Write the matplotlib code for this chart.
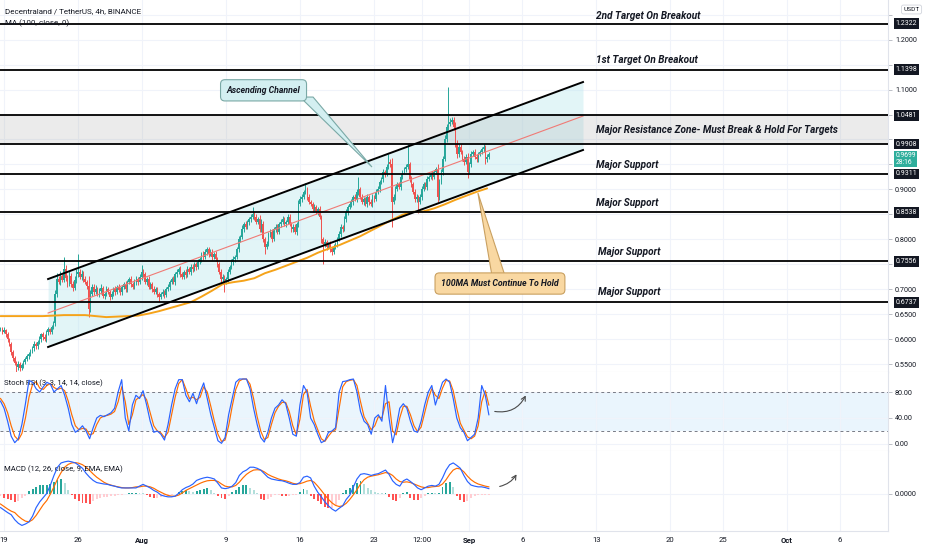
import matplotlib
matplotlib.use('Agg')
import matplotlib.pyplot as plt
import matplotlib.transforms as mtransforms
from matplotlib.patches import Polygon, FancyArrowPatch
from matplotlib import font_manager
import numpy as np

installed = {f.name for f in font_manager.fontManager.ttflist}
if 'Liberation Sans Narrow' in installed:
    UI = 'Liberation Sans Narrow'
    FS = 1.0
else:
    UI = 'Roboto'
    FS = 0.9
plt.rcParams['font.family'] = [UI, 'DejaVu Sans']

# ---------------- data ----------------
open0 = 0.620
closes = [
    0.620, 0.615, 0.618, 0.610, 0.600, 0.590, 0.575, 0.562, 0.552, 0.545,
    0.550, 0.542, 0.548, 0.555, 0.560, 0.566, 0.571, 0.576, 0.582, 0.590,
    0.586, 0.595, 0.601, 0.610, 0.604, 0.600, 0.614, 0.620, 0.615, 0.625,
    0.632, 0.690, 0.720, 0.714, 0.726, 0.719, 0.740, 0.722, 0.710, 0.726,
    0.711, 0.702, 0.719, 0.730, 0.735, 0.724, 0.731, 0.720, 0.714, 0.706,
    0.660, 0.690, 0.705, 0.695, 0.701, 0.690, 0.696, 0.702, 0.686, 0.691,
    0.700, 0.694, 0.685, 0.690, 0.700, 0.695, 0.705, 0.699, 0.694, 0.705,
    0.710, 0.700, 0.715, 0.720, 0.710, 0.705, 0.715, 0.720, 0.714, 0.725,
    0.735, 0.730, 0.715, 0.720, 0.705, 0.710, 0.700, 0.695, 0.700, 0.690,
    0.685, 0.690, 0.695, 0.689, 0.700, 0.705, 0.715, 0.720, 0.714, 0.730,
    0.735, 0.740, 0.730, 0.725, 0.735, 0.729, 0.740, 0.735, 0.745, 0.740,
    0.750, 0.745, 0.755, 0.760, 0.770, 0.764, 0.775, 0.780, 0.770, 0.775,
    0.765, 0.770, 0.760, 0.750, 0.735, 0.720, 0.725, 0.715, 0.720, 0.735,
    0.745, 0.755, 0.760, 0.765, 0.780, 0.800, 0.805, 0.820, 0.830, 0.825,
    0.835, 0.840, 0.845, 0.850, 0.845, 0.835, 0.840, 0.820, 0.830, 0.800,
    0.785, 0.790, 0.810, 0.815, 0.800, 0.820, 0.825, 0.815, 0.830, 0.835,
    0.840, 0.830, 0.835, 0.845, 0.830, 0.820, 0.825, 0.815, 0.830, 0.870,
    0.880, 0.885, 0.895, 0.900, 0.885, 0.875, 0.870, 0.860, 0.865, 0.855,
    0.860, 0.845, 0.800, 0.790, 0.795, 0.785, 0.790, 0.780, 0.775, 0.785,
    0.790, 0.800, 0.810, 0.825, 0.820, 0.840, 0.855, 0.865, 0.870, 0.875,
    0.885, 0.880, 0.895, 0.900, 0.885, 0.875, 0.880, 0.870, 0.885, 0.875,
    0.870, 0.885, 0.880, 0.895, 0.900, 0.915, 0.920, 0.935, 0.930, 0.945,
    0.955, 0.950, 0.875, 0.885, 0.900, 0.910, 0.905, 0.925, 0.935, 0.940,
    0.945, 0.950, 0.920, 0.910, 0.895, 0.880, 0.885, 0.875, 0.885, 0.900,
    0.910, 0.905, 0.920, 0.925, 0.930, 0.925, 0.935, 0.940, 0.885, 0.915,
    0.935, 0.960, 1.000, 1.025, 1.030, 1.035, 1.040, 1.025, 0.990, 0.970,
    0.985, 0.975, 0.960, 0.955, 0.965, 0.935, 0.950, 0.970, 0.975, 0.965,
    0.960, 0.970, 0.975, 0.980, 0.985, 0.960, 0.965, 0.970,
]
# wick lengths above / below the candle body, in thousandths
wick_up = [
    5, 4, 6, 3, 4, 3, 4, 3, 5, 4,   6, 4, 5, 3, 4, 5, 3, 4, 5, 6,
    5, 4, 6, 3, 5, 6, 4, 5, 3, 4,   5, 8, 12, 6, 10, 5, 25, 8, 6, 10,
    7, 5, 8, 10, 35, 6, 8, 5, 6, 4, 20, 8, 6, 5, 7, 4, 6, 8, 5, 4,
    6, 5, 4, 6, 5, 7, 4, 5, 6, 4,   5, 6, 4, 5, 6, 4, 5, 6, 4, 5,
    13, 6, 4, 5, 6, 4, 5, 6, 4, 5,  4, 5, 6, 4, 5, 6, 4, 5, 6, 4,
    5, 4, 6, 5, 4, 5, 6, 4, 5, 6,   4, 5, 6, 4, 5, 6, 5, 5, 4, 6,
    5, 4, 6, 5, 4, 6, 5, 4, 5, 6,   4, 5, 6, 4, 5, 6, 4, 8, 5, 6,
    4, 5, 6, 15, 5, 6, 4, 8, 10, 6, 5, 6, 4, 5, 6, 4, 5, 6, 4, 5,
    6, 5, 4, 6, 5, 4, 6, 5, 4, 8,   6, 5, 4, 13, 5, 6, 4, 5, 6, 4,
    5, 6, 4, 5, 6, 4, 5, 6, 4, 5,   5, 4, 6, 5, 4, 6, 5, 4, 6, 5,
    4, 6, 5, 25, 5, 6, 4, 5, 6, 4,  5, 6, 4, 5, 6, 4, 5, 6, 4, 5,
    15, 6, 12, 5, 6, 4, 5, 6, 4, 5, 6, 40, 5, 6, 4, 5, 6, 4, 5, 6,
    4, 5, 6, 4, 5, 6, 4, 5, 10, 6,  5, 6, 8, 6, 76, 8, 6, 5, 10, 8,
    6, 5, 4, 6, 5, 8, 5, 6, 4, 5,   6, 5, 4, 5, 6, 4, 5, 4,
]
wick_dn = [
    4, 5, 3, 6, 5, 4, 6, 5, 4, 10,  6, 5, 4, 6, 5, 4, 6, 5, 4, 5,
    6, 5, 4, 6, 5, 4, 6, 5, 4, 5,   4, 6, 5, 4, 6, 5, 4, 6, 5, 4,
    6, 5, 4, 6, 5, 4, 6, 5, 4, 6,   15, 5, 4, 6, 5, 4, 6, 5, 4, 6,
    5, 4, 6, 5, 4, 6, 5, 4, 6, 5,   4, 6, 5, 4, 6, 5, 4, 6, 5, 4,
    6, 5, 4, 6, 5, 4, 6, 5, 4, 6,   10, 5, 4, 6, 5, 4, 6, 5, 4, 6,
    5, 4, 6, 5, 4, 6, 5, 4, 6, 5,   4, 6, 5, 4, 6, 5, 4, 6, 5, 4,
    6, 5, 4, 6, 5, 6, 5, 20, 4, 6,  5, 4, 6, 5, 4, 6, 5, 4, 6, 5,
    4, 6, 5, 4, 6, 5, 4, 6, 5, 6,   15, 5, 4, 6, 5, 4, 6, 5, 4, 6,
    5, 4, 6, 5, 4, 6, 5, 4, 6, 5,   4, 6, 5, 4, 6, 5, 4, 6, 5, 4,
    6, 5, 8, 40, 5, 6, 4, 5, 6, 4,  5, 6, 4, 5, 6, 4, 5, 6, 4, 5,
    6, 4, 5, 6, 4, 5, 6, 4, 5, 6,   4, 5, 6, 4, 5, 6, 4, 5, 6, 4,
    5, 6, 50, 5, 6, 4, 5, 6, 4, 5,  6, 4, 5, 6, 4, 5, 6, 22, 5, 6,
    4, 5, 6, 4, 5, 6, 4, 5, 10, 6,  5, 6, 4, 5, 6, 4, 5, 6, 5, 8,
    6, 5, 4, 6, 5, 12, 5, 6, 4, 5,  6, 5, 4, 5, 6, 10, 5, 4,
]
ma_bars = list(range(0, 277, 6))
ma_vals = [0.646, 0.646, 0.646, 0.646, 0.646, 0.647, 0.648, 0.648, 0.648, 0.646,
           0.644, 0.645, 0.646, 0.647, 0.651, 0.656, 0.662, 0.668, 0.674, 0.685,
           0.697, 0.710, 0.714, 0.717, 0.722, 0.732, 0.739, 0.747, 0.755, 0.763,
           0.773, 0.781, 0.788, 0.797, 0.806, 0.817, 0.828, 0.839, 0.849, 0.855,
           0.856, 0.862, 0.870, 0.879, 0.887, 0.895, 0.902]

levels = [1.2322, 1.1398, 1.0481, 0.9908, 0.9311, 0.8538, 0.7556, 0.6737]
last_price = 0.9699
countdown = '28:16'
channel_x = [27.0, 330.4]
channel_upper = [0.7203, 1.1151]
channel_lower = [0.5841, 0.9789]

stoch_k = [66, 55, 35, 12, 2, 8, 30, 62, 98, 95,
           85, 80, 88, 95, 92, 80, 85, 90, 75, 55,
           30, 18, 22, 28, 20, 8, 25, 40, 44, 42,
           45, 48, 55, 80, 99, 40, 20, 60, 75, 70,
           82, 60, 35, 18, 20, 15, 6, 30, 60, 85,
           99, 99, 75, 65, 78, 62, 80, 94, 70, 45,
           25, 5, 1, 10, 45, 70, 95, 100, 100, 100,
           85, 55, 30, 10, 3, 18, 40, 55, 60, 68,
           62, 40, 15, 12, 60, 90, 80, 40, 30, 15,
           2, 5, 18, 20, 25, 80, 96, 97, 99, 100,
           80, 50, 35, 30, 15, 40, 45, 35, 90, 40,
           2, 25, 55, 62, 55, 35, 20, 18, 35, 60,
           80, 90, 60, 78, 95, 100, 95, 70, 40, 25,
           18, 5, 10, 15, 40, 90, 75, 45]
stoch_d = [70, 62, 48, 28, 12, 6, 16, 40, 72, 92,
           96, 86, 84, 90, 93, 87, 84, 86, 82, 66,
           45, 28, 22, 24, 23, 14, 16, 30, 40, 43,
           44, 46, 50, 65, 88, 65, 30, 45, 68, 72,
           76, 68, 48, 28, 20, 17, 10, 18, 45, 72,
           93, 99, 85, 70, 72, 68, 72, 88, 80, 58,
           35, 15, 4, 6, 28, 58, 84, 97, 100, 100,
           92, 70, 42, 20, 7, 10, 30, 48, 58, 64,
           64, 50, 28, 14, 38, 76, 84, 58, 36, 22,
           8, 4, 12, 19, 22, 55, 88, 96, 98, 99,
           90, 65, 42, 32, 22, 28, 42, 40, 62, 65,
           20, 14, 40, 58, 58, 45, 28, 19, 26, 48,
           70, 85, 75, 70, 86, 98, 97, 82, 55, 32,
           21, 11, 8, 12, 28, 65, 82, 60]
# MACD values in units of 0.0001
macd_line = [-38, -45, -52, -58, -72, -82, -88, -84, -78, -62,
             -38, -22, -10, 2, 25, 52, 75, 87, 90, 92,
             90, 87, 80, 72, 58, 47, 38, 32, 30, 28,
             27, 24, 22, 19, 17, 17, 17, 17, 17, 22,
             27, 22, 17, 10, 5, -3, -6, -8, -8, -6,
             2, 12, 18, 22, 28, 38, 42, 45, 47, 45,
             42, 30, 17, 15, 17, 22, 32, 52, 62, 67,
             75, 75, 72, 67, 57, 47, 42, 40, 38, 37,
             34, 30, 27, 27, 32, 47, 50, 45, 22, 5,
             -8, -22, -33, -42, -48, -40, -33, -15, -3, 20,
             42, 55, 57, 55, 52, 55, 57, 62, 67, 55,
             37, 27, 22, 37, 42, 35, 27, 17, 12, 17,
             22, 24, 22, 27, 45, 67, 82, 87, 80, 72,
             52, 35, 25, 22, 20, 20, 18, 15]
macd_signal = [-28, -35, -42, -48, -52, -62, -70, -76, -78, -72,
               -60, -45, -30, -18, 0, 20, 42, 60, 75, 83,
               87, 88, 86, 82, 75, 66, 56, 47, 40, 33,
               28, 25, 22, 20, 18, 17, 17, 18, 20, 20,
               22, 22, 20, 16, 10, 5, 0, -4, -6, -6,
               -3, 3, 10, 15, 20, 25, 30, 34, 37, 38,
               38, 35, 28, 22, 20, 20, 24, 33, 45, 55,
               62, 67, 68, 67, 62, 55, 50, 46, 42, 39,
               37, 34, 30, 28, 29, 32, 36, 38, 33, 22,
               10, -3, -15, -25, -32, -35, -33, -26, -15, -2,
               12, 28, 40, 47, 50, 52, 54, 57, 60, 58,
               52, 42, 35, 33, 34, 32, 28, 24, 20, 18,
               18, 20, 21, 22, 28, 40, 55, 67, 72, 70,
               62, 50, 40, 33, 28, 25, 22, 20]
macd_hist = [-5, -10, -15, -18, -22, -20, -12, -5, 8, 14,
             20, 24, 24, 25, 28, 34, 38, 42, 30, 12,
             -4, -14, -20, -24, -26, -27, -20, -14, -10, -8,
             -8, -6, -6, -4, -2, 0, 2, 3, 4, 3,
             2, -4, -8, -10, -10, -8, -6, -4, -2, 0,
             6, 9, 10, 8, 6, 8, 12, 14, 16, 10,
             4, -6, -12, -14, -5, 5, 12, 20, 24, 24,
             16, 10, 4, -14, -18, -14, -8, -4, -3, -5,
             -6, -6, -4, -2, 6, 14, 10, -6, -14, -20,
             -28, -35, -40, -38, -30, -18, 4, 12, 18, 26,
             32, 36, 28, 18, 10, 6, 3, 2, 4, -8,
             -18, -20, -10, 4, 6, -10, -16, -18, -10, -6,
             2, 4, 3, 4, 20, 30, 34, 20, -6, -18,
             -22, -20, -12, -6, -4, -4, -3, -2]

tick_days = [0, 7, 13, 21, 28, 35, 39.5, 44, 49, 56, 63, 68, 74, 79]
tick_labels = ['19', '26', 'Aug', '9', '16', '23', '12:00', 'Sep', '6', '13', '20', '25', 'Oct', '6']

# ---------------- figure ----------------
W, H = 932, 550
fig = plt.figure(figsize=(W / 100, H / 100), dpi=100)
fig.patch.set_facecolor('white')


def axrect(top, bottom, right=888):
    return [0, 1 - bottom / H, right / W, (bottom - top) / H]


ax_p = fig.add_axes(axrect(0, 372))
ax_s = fig.add_axes(axrect(372, 451), sharex=ax_p)
ax_m = fig.add_axes(axrect(451, 531), sharex=ax_p)

TXT = '#131722'
GRID = '#f0f3fa'
SEP = '#e0e3eb'
UP = '#26a69a'
DN = '#ef5350'

tick_pos = [(d + 0.33) * 6 for d in tick_days]

for ax in (ax_p, ax_s, ax_m):
    ax.set_facecolor('white')
    for s in ('top', 'left'):
        ax.spines[s].set_visible(False)
    ax.spines['right'].set_color(SEP)
    ax.spines['bottom'].set_color(SEP)
    ax.spines['right'].set_linewidth(0.8)
    ax.spines['bottom'].set_linewidth(0.8)
    ax.yaxis.tick_right()
    ax.tick_params(axis='y', length=3, width=0.6, color='#b2b5be',
                   labelsize=5.8 * FS, labelcolor=TXT, pad=2)
    ax.tick_params(axis='x', length=0, labelbottom=False)
    ax.set_xticks(tick_pos)
    ax.grid(True, color=GRID, lw=0.8)
    ax.set_axisbelow(True)

ax_p.set_xlim(-0.28, 503.4)

# ---- price panel ----
ax_p.set_ylim(0.534, 1.2795)
pticks = [round(0.55 + 0.05 * i, 2) for i in range(15)]
hidden = {0.75, 0.85, 0.95, 1.0, 1.05, 1.15, 1.25}
ax_p.set_yticks(pticks)
ax_p.set_yticklabels(['' if t in hidden else f'{t:.4f}' for t in pticks])

n = len(closes)
xb = np.arange(n)
opens = [open0] + closes[:-1]
highs = [max(o, c) + u / 1000 for o, c, u in zip(opens, closes, wick_up)]
lows = [min(o, c) - d / 1000 for o, c, d in zip(opens, closes, wick_dn)]
cols = [UP if c >= o else DN for o, c in zip(opens, closes)]
body_bottom = [min(o, c) for o, c in zip(opens, closes)]
body_h = [max(abs(c - o), 0.0015) for o, c in zip(opens, closes)]

# resistance zone
ax_p.axhspan(levels[3], levels[2], color='#9e9e9e', alpha=0.2, lw=0, zorder=1.2)
# channel fill
ax_p.fill_between(channel_x, channel_lower, channel_upper, color='#bfe9ef', alpha=0.45, lw=0, zorder=1.1)

ax_p.vlines(xb, lows, highs, colors=cols, lw=0.7, zorder=4)
ax_p.bar(xb, body_h, bottom=body_bottom, width=0.82, color=cols, lw=0, zorder=4)
ax_p.plot(ma_bars, ma_vals, color='#f5a31a', lw=1.4, zorder=5, solid_capstyle='round')

channel_mid = [(a + b) / 2 for a, b in zip(channel_upper, channel_lower)]
ax_p.plot(channel_x, channel_upper, color='black', lw=1.4, zorder=6)
ax_p.plot(channel_x, channel_lower, color='black', lw=1.4, zorder=6)
ax_p.plot(channel_x, channel_mid, color='#f07a75', lw=0.8, zorder=5.5)

for lv in levels:
    ax_p.axhline(lv, color='black', lw=1.3, zorder=6)

# right-hand annotations
ann_kw = dict(fontsize=8.0 * FS, fontweight='bold', fontstyle='italic', color=TXT,
              ha='left', va='center', zorder=9)
ax_p.text(337.8, 1.2474, '2nd Target On Breakout', **ann_kw)
ax_p.text(337.8, 1.1593, '1st Target On Breakout', **ann_kw)
ax_p.text(337.8, 1.0189, 'Major Resistance Zone- Must Break & Hold For Targets', **ann_kw)
ax_p.text(337.8, 0.9488, 'Major Support', **ann_kw)
ax_p.text(337.8, 0.8726, 'Major Support', **ann_kw)
ax_p.text(338.9, 0.7745, 'Major Support', **ann_kw)
ax_p.text(338.9, 0.6943, 'Major Support', **ann_kw)

# callouts
ax_p.add_patch(Polygon([[169.9, 1.085], [177.3, 1.085], [210.7, 0.9448]], closed=True,
                       fc='#d3eff1', ec='#7aa9a6', lw=0.8, zorder=8))
ax_p.text(149.2, 1.0985, 'Ascending Channel', fontsize=7.0 * FS, fontweight='bold',
          fontstyle='italic', color=TXT, ha='center', va='center', zorder=9,
          bbox=dict(boxstyle='round,pad=0.7,rounding_size=0.5', fc='#d3eff1', ec='#7aa9a6', lw=0.8))
ax_p.add_patch(Polygon([[278.8, 0.7263], [286.2, 0.7263], [270.8, 0.8927]], closed=True,
                       fc='#f9d8a2', ec='#c9a060', lw=0.8, zorder=8))
ax_p.text(283.3, 0.7113, '100MA Must Continue To Hold', fontsize=7.0 * FS, fontweight='bold',
          fontstyle='italic', color=TXT, ha='center', va='center', zorder=9,
          bbox=dict(boxstyle='round,pad=0.7,rounding_size=0.5', fc='#f9d8a2', ec='#c9a060', lw=0.8))

# header texts
ax_p.text(5 / 888, 1 - 11 / 372, 'Decentraland / TetherUS, 4h, BINANCE', transform=ax_p.transAxes,
          fontsize=6.4 * FS, color=TXT, ha='left', va='center', zorder=10)
ax_p.text(5 / 888, 1 - 23 / 372, 'MA (100, close, 0)', transform=ax_p.transAxes,
          fontsize=6.4 * FS, color=TXT, ha='left', va='center', zorder=10)

# price-scale badges
bt = mtransforms.blended_transform_factory(ax_p.transAxes, ax_p.transData)
for lv in levels:
    ax_p.text(1.0085, lv, f'{lv:.4f}', transform=bt, fontsize=5.6 * FS, color='white',
              ha='left', va='center', clip_on=False, zorder=20,
              bbox=dict(boxstyle='square,pad=0.25', fc='#131722', ec='none'))
ax_p.text(1.0085, 0.9608, f'{last_price:.4f}\n{countdown}', transform=bt, fontsize=5.4 * FS,
          color='white', ha='left', va='center', clip_on=False, zorder=20, linespacing=0.95,
          bbox=dict(boxstyle='square,pad=0.18', fc='#2fae9c', ec='none'))
ax_p.text(1.0265, 1 - 9.5 / 372, 'USDT', transform=ax_p.transAxes, fontsize=5.2 * FS, color=TXT,
          ha='center', va='center', clip_on=False, zorder=20,
          bbox=dict(boxstyle='round,pad=0.3,rounding_size=0.3', fc='white', ec='#d1d4dc', lw=0.6))

# ---- stoch rsi panel ----
osc_x = np.linspace(0, 277, len(stoch_k))
ax_s.set_ylim(-10.8, 110.8)
ax_s.set_yticks([0, 40, 80])
ax_s.set_yticklabels(['0.00', '40.00', '80.00'])
ax_s.axhspan(20, 80, color='#2196f3', alpha=0.09, lw=0, zorder=0.5)
ax_s.axhline(80, color='#787b86', lw=0.7, ls=(0, (3, 3)), zorder=1)
ax_s.axhline(20, color='#787b86', lw=0.7, ls=(0, (3, 3)), zorder=1)
ax_s.plot(osc_x, stoch_d, color='#ff6d00', lw=0.85, zorder=3)
ax_s.plot(osc_x, stoch_k, color='#2962ff', lw=0.85, zorder=3.5)
ax_s.text(4 / 888, 1 - 11 / 79, 'Stoch RSI (3, 3, 14, 14, close)', transform=ax_s.transAxes,
          fontsize=6.2 * FS, color=TXT, ha='left', va='center')
ax_s.add_patch(FancyArrowPatch((278.8, 50.8), (298.6, 78.5), connectionstyle='arc3,rad=0.4',
                               arrowstyle='->,head_length=3,head_width=1.6', color='#4a4a4a',
                               lw=0.8, zorder=6))

# ---- macd panel ----
ax_m.set_ylim(-103.6, 120.4)
ax_m.set_yticks([0])
ax_m.set_yticklabels(['0.0000'])
hcols = []
for i, h in enumerate(macd_hist):
    prev = macd_hist[i - 1] if i > 0 else h
    if h >= 0:
        hcols.append('#26a69a' if h >= prev else '#b2dfdb')
    else:
        hcols.append('#ff5252' if h < prev else '#ffcdd2')
ax_m.bar(osc_x, macd_hist, width=1.1, color=hcols, lw=0, zorder=2)
ax_m.plot(osc_x, macd_signal, color='#ff6d00', lw=0.85, zorder=3)
ax_m.plot(osc_x, macd_line, color='#2962ff', lw=0.85, zorder=3.5)
ax_m.text(4 / 888, 1 - 18 / 80, 'MACD (12, 26, close, 9, EMA, EMA)', transform=ax_m.transAxes,
          fontsize=6.2 * FS, color=TXT, ha='left', va='center')
ax_m.add_patch(FancyArrowPatch((281.6, 19.6), (293.5, 61.6), connectionstyle='arc3,rad=0.25',
                               arrowstyle='->,head_length=3,head_width=1.6', color='#4a4a4a',
                               lw=0.8, zorder=6))

ax_m.tick_params(axis='x', labelbottom=True, labelsize=6.2 * FS, labelcolor=TXT, pad=4)
ax_m.set_xticklabels(tick_labels)
for lab in ax_m.get_xticklabels():
    if lab.get_text() in ('Aug', 'Sep', 'Oct'):
        lab.set_fontweight('bold')

fig.savefig('out.png', dpi=100, facecolor='white')
